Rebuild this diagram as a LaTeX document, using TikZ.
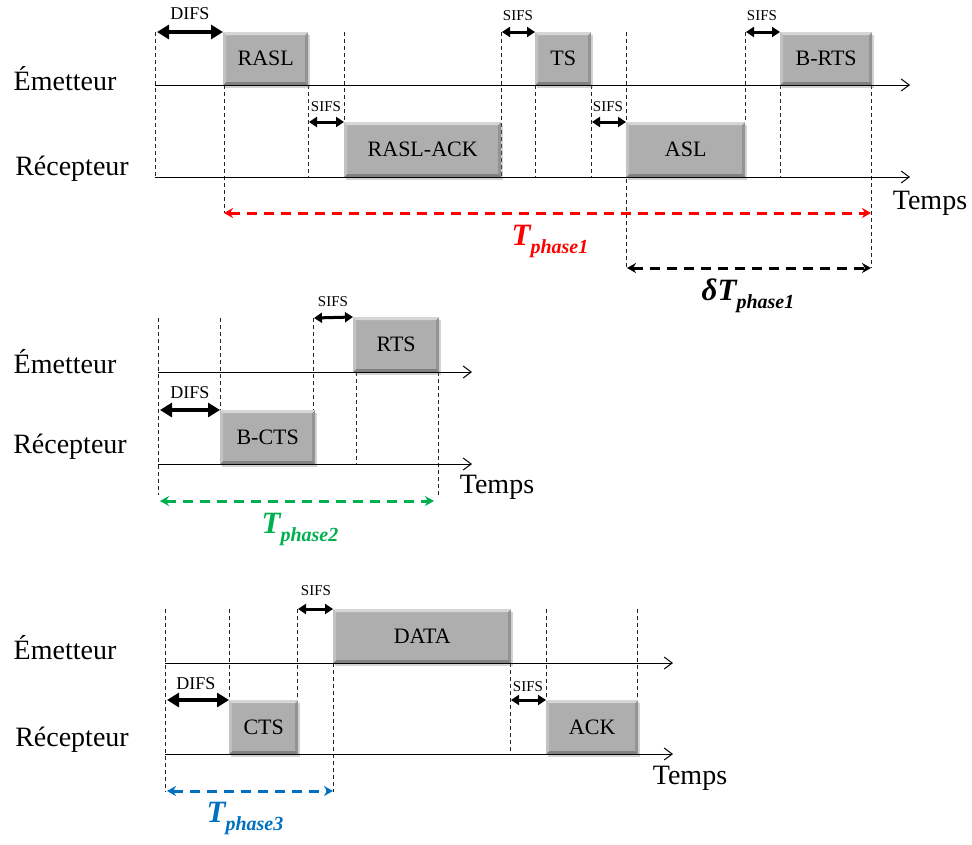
\documentclass[tikz,border=0pt]{standalone}
\usepackage{fontspec}
\setmainfont{Liberation Serif}
\usetikzlibrary{arrows.meta,shadows}
\definecolor{pktgray}{RGB}{174,174,174}
\definecolor{tred}{RGB}{255,0,0}
\definecolor{tgreen}{RGB}{0,176,80}
\definecolor{tblue}{RGB}{0,112,192}
\tikzset{
 timeaxis/.style={line width=1pt, -{Straight Barb[length=8pt,width=12pt]}},
 guide/.style={line width=0.8pt, dash pattern=on 4pt off 3pt, black!85},
 difsarrow/.style={line width=4.5pt, {Triangle[length=12pt,width=14pt]}-{Triangle[length=12pt,width=14pt]}},
 sifsarrow/.style={line width=3pt, {Triangle[length=8pt,width=10pt]}-{Triangle[length=8pt,width=10pt]}},
 period/.style={line width=3pt, dash pattern=on 10pt off 7pt, {Stealth[length=9pt,width=10pt]}-{Stealth[length=9pt,width=10pt]}},
 pkt/.style={fill=pktgray, inner sep=0pt, anchor=north west,
   font=\fontsize{22}{22}\selectfont,
   drop shadow={shadow xshift=2pt,shadow yshift=-3pt,opacity=0.35},
   path picture={
    \fill[white,opacity=0.5] (path picture bounding box.north west) -- (path picture bounding box.north east)
      -- ([shift={(-3pt,-3pt)}]path picture bounding box.north east) -- ([shift={(3pt,-3pt)}]path picture bounding box.north west) -- cycle;
    \fill[white,opacity=0.25] (path picture bounding box.north west) -- (path picture bounding box.south west)
      -- ([shift={(3pt,3pt)}]path picture bounding box.south west) -- ([shift={(3pt,-3pt)}]path picture bounding box.north west) -- cycle;
    \fill[black,opacity=0.25] (path picture bounding box.south west) -- (path picture bounding box.south east)
      -- ([shift={(-3pt,3pt)}]path picture bounding box.south east) -- ([shift={(3pt,3pt)}]path picture bounding box.south west) -- cycle;
    \fill[black,opacity=0.15] (path picture bounding box.north east) -- (path picture bounding box.south east)
      -- ([shift={(-3pt,3pt)}]path picture bounding box.south east) -- ([shift={(-3pt,-3pt)}]path picture bounding box.north east) -- cycle;
   }},
 rolelbl/.style={font=\fontsize{28}{28}\selectfont},
 sifslbl/.style={font=\fontsize{15}{15}\selectfont},
 difslbl/.style={font=\fontsize{18}{18}\selectfont},
 plbl/.style={font=\fontsize{31}{31}\selectfont\bfseries\itshape},
}
\newcommand{\phsub}[1]{\raisebox{-8pt}{\fontsize{20}{20}\selectfont #1}}
\begin{document}
\begin{tikzpicture}[x=1pt,y=-1pt]
\useasboundingbox (0,0) rectangle (972,844);

% ================= Section 1 =================
\node[rolelbl] (em1) at (65,79) {Émetteur};
\node[rolelbl] (re1) at (72,169) {Récepteur};
\node[rolelbl] (tp1) at (930,203) {Temps};
\coordinate (a1s) at (155,85);  \coordinate (a1e) at (910,85);
\coordinate (b1s) at (155,177); \coordinate (b1e) at (910,177);
\coordinate (r1l) at (224,213); \coordinate (r1r) at (871,213);
\coordinate (k1l) at (627,268); \coordinate (k1r) at (871,268);
\coordinate (g1a) at (155,32);
\coordinate (g1b) at (308,177);
\coordinate (g1c) at (344,32);
\coordinate (g1d) at (501,32);
\coordinate (g1e) at (535,177);
\coordinate (g1f) at (591,177);
\coordinate (g1g) at (626,32);
\coordinate (g1h) at (745,32);
\coordinate (g1i) at (780,177);
\coordinate (g1j) at (871,85);

\draw[guide] (g1a) -- (b1s);
\draw[guide] (224,85) -- (r1l);
\draw[guide] (308,85) -- (g1b);
\draw[guide] (g1c) -- (344,122);
\draw[guide] (g1d) -- (501,177);
\draw[guide] (535,85) -- (g1e);
\draw[guide] (591,85) -- (g1f);
\draw[guide] (g1g) -- (626,268);
\draw[guide] (g1h) -- (745,122);
\draw[guide] (780,85) -- (g1i);
\draw[guide] (g1j) -- (871,268);

\node[pkt, minimum width=85pt, minimum height=53pt] (rasl) at (223,32) {RASL};
\node[pkt, minimum width=157pt, minimum height=55pt] (rack) at (344,122) {RASL-ACK};
\node[pkt, minimum width=56pt, minimum height=53pt] (ts) at (535,32) {TS};
\node[pkt, minimum width=119pt, minimum height=55pt] (asl) at (626,122) {ASL};
\node[pkt, minimum width=92pt, minimum height=53pt] (brts) at (780,32) {B-RTS};

\draw[timeaxis] (a1s) -- (a1e);
\draw[timeaxis] (b1s) -- (b1e);

\draw[difsarrow] (157,32) -- (rasl.north west);
\node[difslbl] (d1) at (190,14) {DIFS};
\draw[sifsarrow] (309,122) -- (rack.north west);
\node[sifslbl] (s1) at (326,107) {SIFS};
\draw[sifsarrow] (502,32) -- (ts.north west);
\node[sifslbl] (s2) at (518,16) {SIFS};
\draw[sifsarrow] (592,122) -- (asl.north west);
\node[sifslbl] (s3) at (608,107) {SIFS};
\draw[sifsarrow] (746,32) -- (brts.north west);
\node[sifslbl] (s4) at (762,16) {SIFS};

\draw[period, tred] (r1l) -- (r1r);
\node[plbl, text=tred] (T1) at (550,241) {T\phsub{phase1}};
\draw[period, black] (k1l) -- (k1r);
\node[plbl] (dT1) at (748,296) {δT\phsub{phase1}};

% ================= Section 2 =================
\node[rolelbl] (em2) at (65,362) {Émetteur};
\node[rolelbl] (re2) at (70,447) {Récepteur};
\node[rolelbl] (tp2) at (497,487) {Temps};
\coordinate (a2s) at (158,372); \coordinate (a2e) at (472,372);
\coordinate (b2s) at (158,464); \coordinate (b2e) at (472,464);

\draw[guide] (158,318) -- (158,495);
\draw[guide] (220,318) -- (220,410);
\draw[guide] (313,318) -- (313,410);
\draw[guide] (356,372) -- (356,464);
\draw[guide] (438,372) -- (438,495);

\node[pkt, minimum width=86pt, minimum height=55pt] (rts) at (353,317) {RTS};
\node[pkt, minimum width=95pt, minimum height=54pt] (bcts) at (220,410) {B-CTS};

\draw[timeaxis] (a2s) -- (a2e);
\draw[timeaxis] (b2s) -- (b2e);

\draw[sifsarrow] (314,318) -- (rts.north west);
\node[sifslbl] (s5) at (333,302) {SIFS};
\draw[difsarrow] (160,410) -- (bcts.north west);
\node[difslbl] (d2) at (190,393) {DIFS};
\draw[period, tgreen] (160,501) -- (434,501);
\node[plbl, text=tgreen] (T2) at (300,529) {T\phsub{phase2}};

% ================= Section 3 =================
\node[rolelbl] (em3) at (65,648) {Émetteur};
\node[rolelbl] (re3) at (72,740) {Récepteur};
\node[rolelbl] (tp3) at (690,778) {Temps};
\coordinate (a3s) at (165,663); \coordinate (a3e) at (673,663);
\coordinate (b3s) at (165,754); \coordinate (b3e) at (673,754);

\draw[guide] (165,609) -- (165,792);
\draw[guide] (229,609) -- (229,700);
\draw[guide] (297,609) -- (297,700);
\draw[guide] (333,663) -- (333,792);
\draw[guide] (510,663) -- (510,754);
\draw[guide] (546,609) -- (546,700);
\draw[guide] (637,609) -- (637,700);

\node[pkt, minimum width=178pt, minimum height=54pt] (data) at (333,609) {DATA};
\node[pkt, minimum width=69pt, minimum height=54pt] (cts) at (229,700) {CTS};
\node[pkt, minimum width=92pt, minimum height=54pt] (ack) at (546,700) {ACK};

\draw[timeaxis] (a3s) -- (a3e);
\draw[timeaxis] (b3s) -- (b3e);

\draw[difsarrow] (167,700) -- (cts.north west);
\node[difslbl] (d3) at (196,684) {DIFS};
\draw[sifsarrow] (298,609) -- (data.north west);
\node[sifslbl] (s6) at (316,591) {SIFS};
\draw[sifsarrow] (511,700) -- (ack.north west);
\node[sifslbl] (s7) at (528,687) {SIFS};
\draw[period, tblue] (167,791) -- (333,791);
\node[plbl, text=tblue] (T3) at (245,818) {T\phsub{phase3}};
\end{tikzpicture}
\end{document}
